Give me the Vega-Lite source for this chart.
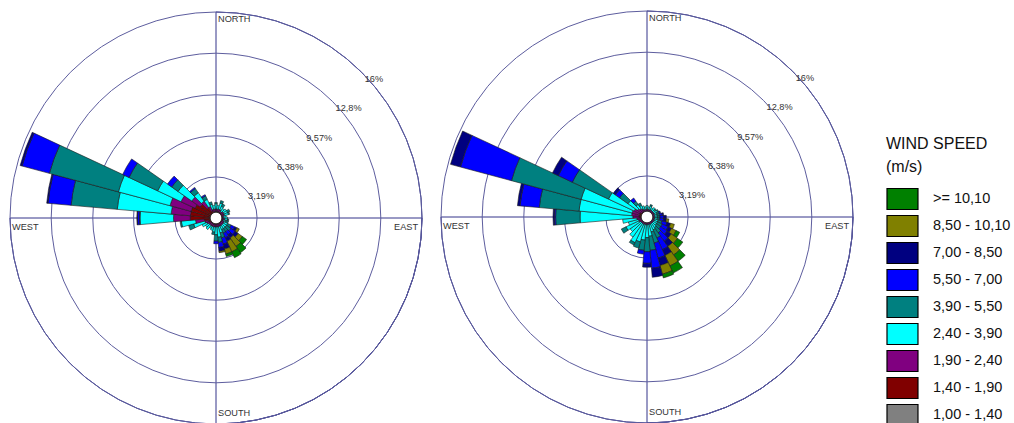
{
  "$schema": "https://vega.github.io/schema/vega-lite/v6.json",
  "padding": 0,
  "spacing": 0,
  "datasets": {
    "classes": [
      {"cls": "c1", "speed": "1,00 - 1,40"},
      {"cls": "c2", "speed": "1,40 - 1,90"},
      {"cls": "c3", "speed": "1,90 - 2,40"},
      {"cls": "c4", "speed": "2,40 - 3,90"},
      {"cls": "c5", "speed": "3,90 - 5,50"},
      {"cls": "c6", "speed": "5,50 - 7,00"},
      {"cls": "c7", "speed": "7,00 - 8,50"},
      {"cls": "c8", "speed": "8,50 - 10,10"},
      {"cls": "c9", "speed": ">= 10,10"}
    ],
    "grid": [{"a0": 0, "a1": 180, "r": 16}, {"a0": 90, "a1": 270, "r": 16}],
    "rings": [
      {"r": 3.19, "lab": "3,19%"},
      {"r": 6.38, "lab": "6,38%"},
      {"r": 9.57, "lab": "9,57%"},
      {"r": 12.8, "lab": "12,8%"},
      {"r": 16, "lab": "16%"}
    ],
    "compass": [
      {"lab": "NORTH", "ang": 0, "r": 16},
      {"lab": "EAST", "ang": 90, "r": 16},
      {"lab": "SOUTH", "ang": 180, "r": 16},
      {"lab": "WEST", "ang": 270, "r": 16}
    ],
    "hole": [{"r": 0.45}],
    "wind": [
      {"rose":"L","dir":0,"c1":0.3,"c2":0.2,"c3":0.2,"c4":0.4,"c5":0.1},
      {"rose":"L","dir":10,"c1":0.3,"c2":0.2,"c3":0.2,"c4":0.3},
      {"rose":"L","dir":20,"c1":0.3,"c2":0.2,"c3":0.2,"c4":0.5,"c5":0.2},
      {"rose":"L","dir":30,"c1":0.3,"c2":0.2,"c3":0.2,"c4":0.3,"c5":0.2},
      {"rose":"L","dir":40,"c1":0.3,"c2":0.2,"c3":0.1,"c4":0.3},
      {"rose":"L","dir":50,"c1":0.3,"c2":0.2,"c3":0.2,"c4":0.3},
      {"rose":"L","dir":60,"c1":0.3,"c2":0.2,"c3":0.2,"c4":0.3,"c5":0.2},
      {"rose":"L","dir":70,"c1":0.3,"c2":0.2,"c3":0.2,"c4":0.3,"c5":0.1},
      {"rose":"L","dir":80,"c1":0.3,"c2":0.2,"c3":0.1,"c4":0.2},
      {"rose":"L","dir":90,"c1":0.3,"c2":0.2,"c3":0.1,"c4":0.3},
      {"rose":"L","dir":100,"c1":0.3,"c2":0.2,"c3":0.2,"c4":0.2,"c5":0.1},
      {"rose":"L","dir":110,"c1":0.3,"c2":0.2,"c3":0.1,"c4":0.2,"c5":0.2},
      {"rose":"L","dir":120,"c1":0.3,"c2":0.2,"c3":0.2,"c4":0.3,"c5":0.3,"c6":0.3,"c7":0.2,"c8":0.2},
      {"rose":"L","dir":130,"c1":0.3,"c2":0.2,"c3":0.2,"c4":0.3,"c5":0.4,"c6":0.4,"c7":0.3,"c8":0.4,"c9":0.4},
      {"rose":"L","dir":140,"c1":0.3,"c2":0.2,"c3":0.2,"c4":0.3,"c5":0.3,"c6":0.3,"c7":0.3,"c8":0.8,"c9":0.6},
      {"rose":"L","dir":150,"c1":0.3,"c2":0.2,"c3":0.2,"c4":0.3,"c5":0.3,"c6":0.4,"c7":0.3,"c8":0.9,"c9":0.5},
      {"rose":"L","dir":160,"c1":0.3,"c2":0.2,"c3":0.2,"c4":0.5,"c5":0.4,"c6":0.5,"c7":0.4,"c8":0.4,"c9":0.2},
      {"rose":"L","dir":170,"c1":0.3,"c2":0.2,"c3":0.2,"c4":0.8,"c5":0.4,"c6":0.4,"c7":0.3,"c8":0.1},
      {"rose":"L","dir":180,"c1":0.3,"c2":0.2,"c3":0.2,"c4":0.6,"c5":0.5,"c6":0.2},
      {"rose":"L","dir":190,"c1":0.3,"c2":0.2,"c3":0.2,"c4":0.4,"c5":0.2},
      {"rose":"L","dir":200,"c1":0.3,"c2":0.2,"c3":0.2,"c4":0.3},
      {"rose":"L","dir":210,"c1":0.3,"c2":0.2,"c3":0.2,"c4":0.2},
      {"rose":"L","dir":220,"c1":0.3,"c2":0.2,"c3":0.2,"c4":0.4},
      {"rose":"L","dir":230,"c1":0.3,"c2":0.2,"c3":0.2,"c4":0.3},
      {"rose":"L","dir":240,"c1":0.3,"c2":0.3,"c3":0.2,"c4":0.4},
      {"rose":"L","dir":250,"c1":0.3,"c2":0.3,"c3":0.3,"c4":0.9,"c5":0.4},
      {"rose":"L","dir":260,"c1":0.3,"c2":0.6,"c3":0.7,"c4":1.1,"c5":0.1},
      {"rose":"L","dir":270,"c1":0.3,"c2":1.7,"c3":1.3,"c4":2.6,"c5":0.05,"c6":0.15,"c7":0.05},
      {"rose":"L","dir":280,"c1":0.3,"c2":1.7,"c3":1.5,"c4":4.2,"c5":3.6,"c6":1.8,"c7":0.1},
      {"rose":"L","dir":290,"c1":0.3,"c2":1.7,"c3":1.7,"c4":4.15,"c5":5.55,"c6":2.2,"c7":0.15},
      {"rose":"L","dir":300,"c1":0.3,"c2":1.5,"c3":1.2,"c4":2.0,"c5":2.45,"c6":0.55},
      {"rose":"L","dir":310,"c1":0.3,"c2":1.2,"c3":0.8,"c4":1.3,"c5":0.6,"c6":0.4},
      {"rose":"L","dir":320,"c1":0.3,"c2":0.7,"c3":0.6,"c4":0.8,"c5":0.4,"c6":0.1},
      {"rose":"L","dir":330,"c1":0.3,"c2":0.3,"c3":0.4,"c4":0.6,"c5":0.3,"c6":0.1},
      {"rose":"L","dir":340,"c1":0.3,"c2":0.2,"c3":0.2,"c4":0.4,"c5":0.2},
      {"rose":"L","dir":350,"c1":0.3,"c2":0.2,"c3":0.2,"c4":0.3},
      {"rose":"R","dir":0,"c1":0.2,"c2":0.2,"c3":0.2,"c4":0.3},
      {"rose":"R","dir":10,"c1":0.2,"c2":0.2,"c3":0.2,"c4":0.2},
      {"rose":"R","dir":20,"c1":0.2,"c2":0.2,"c3":0.2,"c4":0.3,"c5":0.1},
      {"rose":"R","dir":30,"c1":0.2,"c2":0.2,"c3":0.2,"c4":0.2},
      {"rose":"R","dir":40,"c1":0.2,"c2":0.2,"c3":0.2,"c4":0.3},
      {"rose":"R","dir":50,"c1":0.2,"c2":0.2,"c3":0.2,"c4":0.2,"c5":0.1},
      {"rose":"R","dir":60,"c1":0.2,"c2":0.2,"c3":0.2,"c4":0.3,"c5":0.1},
      {"rose":"R","dir":70,"c1":0.2,"c2":0.2,"c3":0.2,"c4":0.2,"c5":0.2,"c6":0.1},
      {"rose":"R","dir":80,"c1":0.2,"c2":0.2,"c3":0.2,"c4":0.2,"c5":0.2,"c6":0.2,"c7":0.1},
      {"rose":"R","dir":90,"c1":0.2,"c2":0.2,"c3":0.2,"c4":0.2,"c5":0.2,"c6":0.3,"c7":0.2},
      {"rose":"R","dir":100,"c1":0.2,"c2":0.2,"c3":0.2,"c4":0.2,"c5":0.2,"c6":0.3,"c7":0.2,"c8":0.2},
      {"rose":"R","dir":110,"c1":0.2,"c2":0.2,"c3":0.2,"c4":0.3,"c5":0.3,"c6":0.4,"c7":0.3,"c8":0.3},
      {"rose":"R","dir":120,"c1":0.2,"c2":0.2,"c3":0.2,"c4":0.3,"c5":0.4,"c6":0.5,"c7":0.3,"c8":0.4,"c9":0.3},
      {"rose":"R","dir":130,"c1":0.2,"c2":0.2,"c3":0.2,"c4":0.3,"c5":0.4,"c6":0.6,"c7":0.4,"c8":0.6,"c9":0.5},
      {"rose":"R","dir":140,"c1":0.2,"c2":0.2,"c3":0.2,"c4":0.4,"c5":0.5,"c6":0.8,"c7":0.5,"c8":0.8,"c9":0.6},
      {"rose":"R","dir":150,"c1":0.2,"c2":0.2,"c3":0.2,"c4":0.5,"c5":0.7,"c6":1.0,"c7":0.5,"c8":0.9,"c9":0.6},
      {"rose":"R","dir":160,"c1":0.2,"c2":0.2,"c3":0.2,"c4":0.6,"c5":0.9,"c6":1.2,"c7":0.6,"c8":0.7,"c9":0.3},
      {"rose":"R","dir":170,"c1":0.2,"c2":0.2,"c3":0.2,"c4":0.9,"c5":1.1,"c6":1.4,"c7":0.7},
      {"rose":"R","dir":180,"c1":0.2,"c2":0.2,"c3":0.2,"c4":1.0,"c5":1.1,"c6":0.9,"c7":0.3},
      {"rose":"R","dir":190,"c1":0.2,"c2":0.2,"c3":0.2,"c4":1.2,"c5":0.8,"c6":0.3},
      {"rose":"R","dir":200,"c1":0.2,"c2":0.2,"c3":0.2,"c4":1.4,"c5":0.5},
      {"rose":"R","dir":210,"c1":0.2,"c2":0.2,"c3":0.2,"c4":1.6,"c5":0.2},
      {"rose":"R","dir":220,"c1":0.2,"c2":0.2,"c3":0.2,"c4":1.3},
      {"rose":"R","dir":230,"c1":0.2,"c2":0.2,"c3":0.2,"c4":1.0},
      {"rose":"R","dir":240,"c1":0.2,"c2":0.3,"c3":0.2,"c4":1.1,"c5":0.4},
      {"rose":"R","dir":250,"c1":0.2,"c2":0.3,"c3":0.2,"c4":0.8},
      {"rose":"R","dir":260,"c1":0.2,"c2":0.3,"c3":0.3,"c4":1.1},
      {"rose":"R","dir":270,"c1":0.2,"c2":0.4,"c3":0.5,"c4":4.1,"c5":1.9,"c6":0.1,"c7":0.1},
      {"rose":"R","dir":280,"c1":0.2,"c2":0.4,"c3":0.6,"c4":4.1,"c5":3.1,"c6":1.5,"c7":0.2},
      {"rose":"R","dir":290,"c1":0.2,"c2":0.4,"c3":0.6,"c4":4.1,"c5":5.6,"c6":4.1,"c7":0.8},
      {"rose":"R","dir":300,"c1":0.2,"c2":0.4,"c3":0.5,"c4":2.2,"c5":3.1,"c6":1.2,"c7":0.5},
      {"rose":"R","dir":310,"c1":0.2,"c2":0.3,"c3":0.4,"c4":0.9,"c5":0.8,"c6":0.4,"c7":0.2},
      {"rose":"R","dir":320,"c1":0.2,"c2":0.3,"c3":0.3,"c4":0.4,"c5":0.3,"c6":0.3},
      {"rose":"R","dir":330,"c1":0.2,"c2":0.3,"c3":0.2,"c4":0.3,"c5":0.2},
      {"rose":"R","dir":340,"c1":0.2,"c2":0.2,"c3":0.2,"c4":0.3},
      {"rose":"R","dir":350,"c1":0.2,"c2":0.2,"c3":0.2,"c4":0.2}
    ]
  },
  "hconcat": [
    {
      "width": 432,
      "height": 436,
      "layer": [
        {
          "data": {"name": "grid"},
          "mark": {"type": "arc", "filled": false, "stroke": "#34348a", "strokeWidth": 1},
          "encoding": {
            "theta": {"field": "a0", "type": "quantitative", "stack": null, "scale": {"type": "linear", "domain": [0, 360], "range": [0, 6.283185307179586]}},
            "theta2": {"field": "a1"},
            "radius": {"field": "r", "type": "quantitative", "stack": null, "scale": {"type": "linear", "domain": [0, 16], "range": [0, 206], "zero": true, "nice": false}}
          }
        },
        {
          "data": {"name": "rings"},
          "mark": {"type": "arc", "filled": false, "stroke": "#5d5d9e", "strokeWidth": 1},
          "encoding": {
            "theta": {"datum": 0, "type": "quantitative"},
            "theta2": {"datum": 360},
            "radius": {"field": "r", "type": "quantitative", "stack": null}
          }
        },
        {
          "data": {"name": "wind"},
          "transform": [
            {"filter": "datum.rose === 'L'"},
            {"fold": ["c1", "c2", "c3", "c4", "c5", "c6", "c7", "c8", "c9"], "as": ["cls", "pct"]},
            {"filter": "isValid(datum.pct) && datum.pct > 0"},
            {"lookup": "cls", "from": {"data": {"name": "classes"}, "key": "cls", "fields": ["speed"]}},
            {"stack": "pct", "groupby": ["dir"], "sort": [{"field": "cls", "order": "ascending"}], "as": ["r0", "r1"]},
            {"calculate": "datum.dir - 5", "as": "a0"},
            {"calculate": "datum.dir + 5", "as": "a1"}
          ],
          "mark": {"type": "arc", "stroke": "#1a1a1a", "strokeWidth": 0.6},
          "encoding": {
            "theta": {"field": "a0", "type": "quantitative", "stack": null},
            "theta2": {"field": "a1"},
            "radius": {"field": "r1", "type": "quantitative", "stack": null},
            "radius2": {"field": "r0"},
            "color": {
              "field": "speed",
              "type": "nominal",
              "scale": {
                "domain": [">= 10,10", "8,50 - 10,10", "7,00 - 8,50", "5,50 - 7,00", "3,90 - 5,50", "2,40 - 3,90", "1,90 - 2,40", "1,40 - 1,90", "1,00 - 1,40"],
                "range": ["#008000", "#808000", "#000080", "#0000ff", "#008080", "#00ffff", "#800080", "#800000", "#808080"]
              },
              "legend": {
                "orient": "none",
                "legendX": 886,
                "legendY": 136,
                "title": ["WIND SPEED", "(m/s)"]
              }
            }
          }
        },
        {
          "data": {"name": "hole"},
          "mark": {"type": "arc", "fill": "#ffffff", "stroke": "#222222", "strokeWidth": 0.8},
          "encoding": {
            "theta": {"datum": 0, "type": "quantitative"},
            "theta2": {"datum": 360},
            "radius": {"field": "r", "type": "quantitative", "stack": null}
          }
        },
        {
          "data": {"name": "rings"},
          "mark": {"type": "text", "align": "left", "baseline": "top", "dx": 3, "dy": 3, "fontSize": 9.2, "color": "#333333"},
          "encoding": {
            "theta": {"datum": 45, "type": "quantitative"},
            "radius": {"field": "r", "type": "quantitative", "stack": null},
            "text": {"field": "lab"}
          }
        },
        {
          "data": {"name": "compass"},
          "transform": [{"filter": "datum.ang === 0"}],
          "mark": {"type": "text", "align": "left", "baseline": "top", "dx": 2, "dy": 3, "fontSize": 9.2, "color": "#333333"},
          "encoding": {
            "theta": {"field": "ang", "type": "quantitative", "stack": null},
            "radius": {"field": "r", "type": "quantitative", "stack": null},
            "text": {"field": "lab"}
          }
        },
        {
          "data": {"name": "compass"},
          "transform": [{"filter": "datum.ang === 90"}],
          "mark": {"type": "text", "align": "right", "baseline": "top", "dx": -4, "dy": 5, "fontSize": 9.2, "color": "#333333"},
          "encoding": {
            "theta": {"field": "ang", "type": "quantitative", "stack": null},
            "radius": {"field": "r", "type": "quantitative", "stack": null},
            "text": {"field": "lab"}
          }
        },
        {
          "data": {"name": "compass"},
          "transform": [{"filter": "datum.ang === 180"}],
          "mark": {"type": "text", "align": "left", "baseline": "bottom", "dx": 2, "dy": -6, "fontSize": 9.2, "color": "#333333"},
          "encoding": {
            "theta": {"field": "ang", "type": "quantitative", "stack": null},
            "radius": {"field": "r", "type": "quantitative", "stack": null},
            "text": {"field": "lab"}
          }
        },
        {
          "data": {"name": "compass"},
          "transform": [{"filter": "datum.ang === 270"}],
          "mark": {"type": "text", "align": "left", "baseline": "top", "dx": 2, "dy": 5, "fontSize": 9.2, "color": "#333333"},
          "encoding": {
            "theta": {"field": "ang", "type": "quantitative", "stack": null},
            "radius": {"field": "r", "type": "quantitative", "stack": null},
            "text": {"field": "lab"}
          }
        }
      ]
    },
    {
      "width": 430,
      "height": 434,
      "layer": [
        {
          "data": {"name": "grid"},
          "mark": {"type": "arc", "filled": false, "stroke": "#34348a", "strokeWidth": 1},
          "encoding": {
            "theta": {"field": "a0", "type": "quantitative", "stack": null, "scale": {"type": "linear", "domain": [0, 360], "range": [0, 6.283185307179586]}},
            "theta2": {"field": "a1"},
            "radius": {"field": "r", "type": "quantitative", "stack": null, "scale": {"type": "linear", "domain": [0, 16], "range": [0, 206], "zero": true, "nice": false}}
          }
        },
        {
          "data": {"name": "rings"},
          "mark": {"type": "arc", "filled": false, "stroke": "#5d5d9e", "strokeWidth": 1},
          "encoding": {
            "theta": {"datum": 0, "type": "quantitative"},
            "theta2": {"datum": 360},
            "radius": {"field": "r", "type": "quantitative", "stack": null}
          }
        },
        {
          "data": {"name": "wind"},
          "transform": [
            {"filter": "datum.rose === 'R'"},
            {"fold": ["c1", "c2", "c3", "c4", "c5", "c6", "c7", "c8", "c9"], "as": ["cls", "pct"]},
            {"filter": "isValid(datum.pct) && datum.pct > 0"},
            {"lookup": "cls", "from": {"data": {"name": "classes"}, "key": "cls", "fields": ["speed"]}},
            {"stack": "pct", "groupby": ["dir"], "sort": [{"field": "cls", "order": "ascending"}], "as": ["r0", "r1"]},
            {"calculate": "datum.dir - 5", "as": "a0"},
            {"calculate": "datum.dir + 5", "as": "a1"}
          ],
          "mark": {"type": "arc", "stroke": "#1a1a1a", "strokeWidth": 0.6},
          "encoding": {
            "theta": {"field": "a0", "type": "quantitative", "stack": null},
            "theta2": {"field": "a1"},
            "radius": {"field": "r1", "type": "quantitative", "stack": null},
            "radius2": {"field": "r0"},
            "color": {"field": "speed", "type": "nominal"}
          }
        },
        {
          "data": {"name": "hole"},
          "mark": {"type": "arc", "fill": "#ffffff", "stroke": "#222222", "strokeWidth": 0.8},
          "encoding": {
            "theta": {"datum": 0, "type": "quantitative"},
            "theta2": {"datum": 360},
            "radius": {"field": "r", "type": "quantitative", "stack": null}
          }
        },
        {
          "data": {"name": "rings"},
          "mark": {"type": "text", "align": "left", "baseline": "top", "dx": 3, "dy": 3, "fontSize": 9.2, "color": "#333333"},
          "encoding": {
            "theta": {"datum": 45, "type": "quantitative"},
            "radius": {"field": "r", "type": "quantitative", "stack": null},
            "text": {"field": "lab"}
          }
        },
        {
          "data": {"name": "compass"},
          "transform": [{"filter": "datum.ang === 0"}],
          "mark": {"type": "text", "align": "left", "baseline": "top", "dx": 2, "dy": 3, "fontSize": 9.2, "color": "#333333"},
          "encoding": {
            "theta": {"field": "ang", "type": "quantitative", "stack": null},
            "radius": {"field": "r", "type": "quantitative", "stack": null},
            "text": {"field": "lab"}
          }
        },
        {
          "data": {"name": "compass"},
          "transform": [{"filter": "datum.ang === 90"}],
          "mark": {"type": "text", "align": "right", "baseline": "top", "dx": -4, "dy": 5, "fontSize": 9.2, "color": "#333333"},
          "encoding": {
            "theta": {"field": "ang", "type": "quantitative", "stack": null},
            "radius": {"field": "r", "type": "quantitative", "stack": null},
            "text": {"field": "lab"}
          }
        },
        {
          "data": {"name": "compass"},
          "transform": [{"filter": "datum.ang === 180"}],
          "mark": {"type": "text", "align": "left", "baseline": "bottom", "dx": 2, "dy": -6, "fontSize": 9.2, "color": "#333333"},
          "encoding": {
            "theta": {"field": "ang", "type": "quantitative", "stack": null},
            "radius": {"field": "r", "type": "quantitative", "stack": null},
            "text": {"field": "lab"}
          }
        },
        {
          "data": {"name": "compass"},
          "transform": [{"filter": "datum.ang === 270"}],
          "mark": {"type": "text", "align": "left", "baseline": "top", "dx": 2, "dy": 5, "fontSize": 9.2, "color": "#333333"},
          "encoding": {
            "theta": {"field": "ang", "type": "quantitative", "stack": null},
            "radius": {"field": "r", "type": "quantitative", "stack": null},
            "text": {"field": "lab"}
          }
        }
      ]
    }
  ],
  "config": {
    "view": {"stroke": null},
    "font": "Liberation Sans",
    "text": {"font": "Liberation Sans"},
    "legend": {
      "titleFont": "Liberation Sans",
      "titleFontSize": 16,
      "titleFontWeight": "normal",
      "titleColor": "#111111",
      "titleLineHeight": 22.5,
      "titlePadding": 13,
      "labelFont": "Liberation Sans",
      "labelFontSize": 14.5,
      "labelColor": "#111111",
      "labelOffset": 24,
      "symbolType": "M-1,-1L1.95,-1L1.95,1L-1,1Z",
      "symbolSize": 441,
      "symbolStrokeColor": "#000000",
      "symbolStrokeWidth": 1.2,
      "symbolOpacity": 1,
      "rowPadding": 0
    }
  }
}
